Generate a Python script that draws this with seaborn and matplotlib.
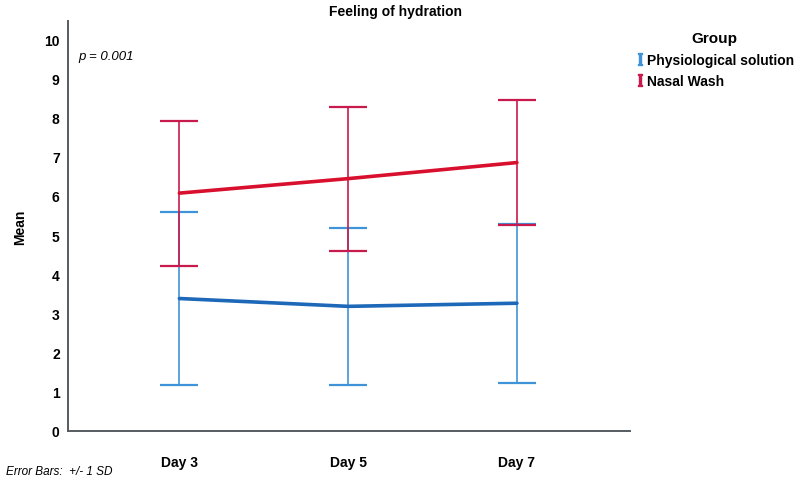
import matplotlib
matplotlib.use("Agg")
import matplotlib.pyplot as plt
from matplotlib.lines import Line2D
import seaborn as sns
import pandas as pd

# ----------------------------------------------------------
# data
# ----------------------------------------------------------
days = ["Day 3", "Day 5", "Day 7"]
groups = ["Physiological solution", "Nasal Wash"]
physio_mean = [3.38, 3.18, 3.26]
physio_sd = [2.22, 2.00, 2.03]
nasal_mean = [6.07, 6.44, 6.85]
nasal_sd = [1.85, 1.84, 1.59]
y_ticks = list(range(0, 11))

bar_colors = {"Physiological solution": "#3f93d8", "Nasal Wash": "#c81a4c"}
line_colors = {"Physiological solution": "#1d68b8", "Nasal Wash": "#d8102e"}

df = pd.DataFrame({
    "day": days * 2,
    "group": [groups[0]] * 3 + [groups[1]] * 3,
    "mean": physio_mean + nasal_mean,
    "sd": physio_sd + nasal_sd,
})

sns.set_theme(style="white")
plt.rcParams["font.family"] = ["Liberation Sans", "DejaVu Sans"]
plt.rcParams["mathtext.fontset"] = "dejavuserif"
plt.rcParams["text.color"] = "black"
plt.rcParams["xtick.color"] = "black"
plt.rcParams["ytick.color"] = "black"
plt.rcParams["axes.labelcolor"] = "black"

fig = plt.figure(figsize=(8, 4.81), dpi=100)
ax = fig.add_axes([0.085, 0.102, 0.7025, 0.852])

# error bars (+/- 1 SD) first, then the mean lines on top
pos = {d: i for i, d in enumerate(days)}
for g in groups:
    sub = df[df["group"] == g]
    x = [pos[d] for d in sub["day"]]
    ax.errorbar(x, sub["mean"], yerr=sub["sd"], fmt="none",
                ecolor=bar_colors[g], elinewidth=1.2, capsize=13.5,
                capthick=1.6, zorder=2)

sns.pointplot(data=df, x="day", y="mean", hue="group", order=days,
              hue_order=groups, palette=line_colors, markers="",
              errorbar=None, linewidth=2.6, ax=ax, legend=False, zorder=3)

ax.set_xlim(-0.66, 2.67)
ax.set_ylim(0, 10.46)
ax.set_yticks(y_ticks)
ax.set_yticklabels([str(t) for t in y_ticks], fontsize=10, fontweight="bold")
ax.set_xticks(range(len(days)))
ax.set_xticklabels(days, fontsize=10, fontweight="bold")
ax.tick_params(axis="y", length=0, pad=6)
ax.tick_params(axis="x", length=0, pad=17)
ax.set_xlabel("")
ax.set_ylabel("Mean", fontsize=10, fontweight="bold", labelpad=12)
for side in ["top", "right"]:
    ax.spines[side].set_visible(False)
for side in ["left", "bottom"]:
    ax.spines[side].set_color("#555b5e")
    ax.spines[side].set_linewidth(1.4)

ax.text(0.018, 0.915, "p = 0.001", transform=ax.transAxes, fontsize=9.5,
        fontstyle="italic", va="center")

fig.text(0.494, 0.975, "Feeling of hydration", ha="center", va="center",
         fontsize=10, fontweight="bold")
fig.text(0.008, 0.006, "Error Bars:  +/- 1 SD", ha="left", va="bottom",
         fontsize=8.5, fontstyle="italic")

handles = [Line2D([], [], marker=r"$\mathrm{I}$", linestyle="none",
                  markersize=8, color=bar_colors[g]) for g in groups]
leg = fig.legend(handles, groups, title="Group", loc="upper left",
                 bbox_to_anchor=(0.787, 0.945), frameon=False,
                 prop={"weight": "bold", "size": 10}, handletextpad=0.15,
                 handlelength=0.7, labelspacing=0.55, borderaxespad=0)
leg.get_title().set_fontweight("bold")
leg.get_title().set_fontsize(11)

fig.savefig("out.png", dpi=100)
